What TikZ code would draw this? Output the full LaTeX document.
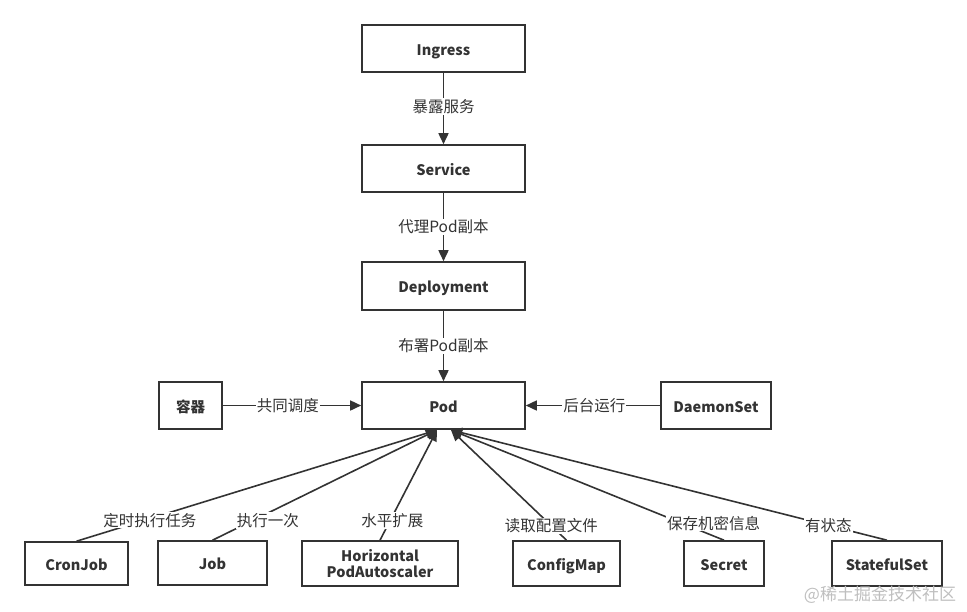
\documentclass[tikz,border=0pt]{standalone}
\usepackage{fontspec}
\setmainfont{Noto Sans CJK SC}
\usetikzlibrary{arrows.meta}
\definecolor{ink}{HTML}{333333}
\begin{document}
\begin{tikzpicture}[x=1pt,y=-1pt,
  box/.style={draw=ink, line width=1.6pt, text=ink, align=center, inner sep=0pt,
    text height=13.6pt, text depth=0pt,
    font=\bfseries\fontsize{14.5}{15}\selectfont},
  conn/.style={draw=ink, line width=1.6pt, -{Triangle[length=11pt,width=10pt]}},
  lbl/.style={fill=white, text=ink, inner sep=1pt, font=\fontsize{15.5}{17}\selectfont}
]
\useasboundingbox (0,0) rectangle (967,611);
\node[box, minimum width=163pt, minimum height=47pt] (ing) at (443.5,48.5) {Ingress};
\node[box, minimum width=163pt, minimum height=47pt] (svc) at (443.5,168.5) {Service};
\node[box, minimum width=163pt, minimum height=48pt] (dep) at (443.5,286) {Deployment};
\node[box, minimum width=163pt, minimum height=47pt] (pod) at (443.5,405.5) {Pod};
\node[box, minimum width=63pt, minimum height=47pt] (ctr) at (190.5,405.5) {容器};
\node[box, minimum width=110pt, minimum height=47pt] (ds) at (716,405.5) {DaemonSet};
\node[box, minimum width=103pt, minimum height=43pt] (cron) at (76.5,563.5) {CronJob};
\node[box, minimum width=109pt, minimum height=44pt] (job) at (212.5,563) {Job};
\node[box, minimum width=156pt, minimum height=45pt, text height=, text depth=,
  font=\bfseries\fontsize{14.5}{16.5}\selectfont] (hpa) at (380,563.5) {Horizontal\\PodAutoscaler};
\node[box, minimum width=107pt, minimum height=45pt] (cm) at (566.5,563.5) {ConfigMap};
\node[box, minimum width=80pt, minimum height=45pt] (sec) at (724,563.5) {Secret};
\node[box, minimum width=110pt, minimum height=45pt] (sts) at (887,563.5) {StatefulSet};
\coordinate (pl) at (437,430);
\coordinate (pr) at (451,430);

\draw[conn] (ing) -- node[lbl, pos=0.47] {暴露服务} (svc);
\draw[conn] (svc) -- node[lbl, pos=0.5] {代理Pod副本} (dep);
\draw[conn] (dep) -- node[lbl, pos=0.5] {布署Pod副本} (pod);
\draw[conn] (ctr) -- node[lbl, pos=0.47] {共同调度} (pod);
\draw[conn] (ds) -- node[lbl, pos=0.49] {后台运行} (pod);

\draw[conn] (cron.north) -- node[lbl, pos=0.19, xshift=5pt] {定时执行任务} (pl);
\draw[conn] (job.north) -- node[lbl, pos=0.18, xshift=15pt] {执行一次} (pl);
\draw[conn] (hpa.north) -- node[lbl, pos=0.18, xshift=2pt] {水平扩展} (pl);
\draw[conn] (cm.north) -- node[lbl, pos=0.13] {读取配置文件} (pr);
\draw[conn] (sec.north) -- node[lbl, pos=0.155, xshift=32pt] {保存机密信息} (pr);
\draw[conn] (sts.north) -- node[lbl, pos=0.13, xshift=-2pt] {有状态} (pr);

\node[text=black!25, font=\fontsize{17}{19}\selectfont, inner sep=0pt] (wm) at (880,595) {@稀土掘金技术社区};
\end{tikzpicture}
\end{document}
